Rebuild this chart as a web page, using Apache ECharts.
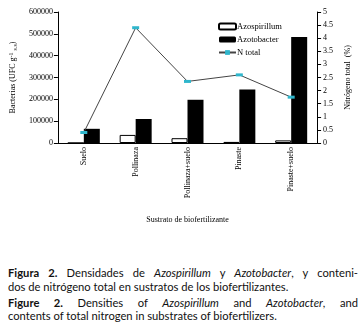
<!DOCTYPE html>
<html>
<head>
<meta charset="utf-8">
<script src="https://cdn.jsdelivr.net/npm/echarts@6/dist/echarts.min.js"></script>
<style>
  body { margin: 0; background: #fff; }
  #wrap { position: relative; width: 360px; height: 330px; overflow: hidden; }
  #main { position: absolute; left: 0; top: 0; width: 360px; height: 240px; }
  .cap { position: absolute; left: 8px; width: 350px; font-family: Lato, 'DejaVu Sans', sans-serif;
         font-size: 11.2px; line-height: 13px; color: #111; white-space: nowrap; }
  .j { text-align: justify; text-align-last: justify; }
  .cap b { font-weight: bold; }
</style>
</head>
<body>
<div id="wrap">
  <div id="main"></div>
  <div class="cap j" style="top:266px"><b>Figura 2.</b> Densidades de <i>Azospirillum</i> y <i>Azotobacter</i>, y conteni-</div>
  <div class="cap" style="top:280px">dos de nitrógeno total en sustratos de los biofertilizantes.</div>
  <div class="cap j" style="top:296px"><b>Figure 2.</b> Densities of <i>Azospirillum</i> and <i>Azotobacter</i>, and</div>
  <div class="cap" style="top:309px">contents of total nitrogen in substrates of biofertilizers.</div>
</div>
<script>
// data
let categories = ['Suelo', 'Pollinaza', 'Pollinaza+suelo', 'Pinaste', 'Pinaste+suelo'];
let azospirillum = [0, 37000, 22000, 5000, 12000];
let azotobacter = [65000, 110000, 198000, 245000, 485000];
let nTotal = [0.4, 4.4, 2.35, 2.6, 1.75];

let chartDom = document.getElementById('main');
let myChart = echarts.init(chartDom);
const serif = "'Liberation Serif', 'DejaVu Serif', serif";

let option = {
    animation: false,
    textStyle: { fontFamily: serif, color: '#000' },
    grid: { left: 55, right: 35, top: 12, bottom: 97 },
    legend: {
        orient: 'vertical',
        left: 213,
        top: 17,
        itemWidth: 17,
        itemHeight: 6,
        itemGap: 4,
        textStyle: { fontFamily: serif, fontSize: 8.5, color: '#000', padding: [0, 0, 0, -4] },
        data: ['Azospirillum', 'Azotobacter', 'N total']
    },
    xAxis: {
        type: 'category',
        data: categories,
        name: 'Sustrato de biofertilizante',
        nameLocation: 'middle',
        nameGap: 73,
        nameTextStyle: { fontFamily: serif, fontSize: 8, color: '#000' },
        axisLine: { lineStyle: { color: '#000', width: 1 } },
        axisTick: { length: 4, lineStyle: { color: '#000' } },
        axisLabel: { rotate: 90, fontSize: 8, color: '#000', fontFamily: serif, margin: 4 }
    },
    yAxis: [
        {
            type: 'value',
            min: 0,
            max: 600000,
            interval: 100000,
            name: '{a|Bacterias (UFC g}{sup|-1}{a| }{sub|s.s}{a|)}',
            nameLocation: 'middle',
            nameGap: 27,
            nameTextStyle: {
                rich: {
                    a: { fontFamily: serif, fontSize: 8, color: '#000' },
                    sup: { fontFamily: serif, fontSize: 6, color: '#000', verticalAlign: 'top', padding: [0, 0, 4, 0] },
                    sub: { fontFamily: serif, fontSize: 6, color: '#000', verticalAlign: 'bottom', padding: [4, 0, 0, 0] }
                }
            },
            axisLine: { show: true, lineStyle: { color: '#000' } },
            axisTick: { show: true, length: 4, lineStyle: { color: '#000' } },
            axisLabel: { fontSize: 8, color: '#000', fontFamily: serif, margin: 5, formatter: v => String(v) },
            splitLine: { show: false }
        },
        {
            type: 'value',
            min: 0,
            max: 5,
            interval: 0.5,
            position: 'right',
            name: 'Nitrógeno total  (%)',
            nameLocation: 'middle',
            nameRotate: 90,
            nameGap: 17,
            nameTextStyle: { fontFamily: serif, fontSize: 8, color: '#000' },
            axisLine: { show: true, lineStyle: { color: '#000' } },
            axisTick: { show: true, length: 4, lineStyle: { color: '#000' } },
            axisLabel: { fontSize: 8, color: '#000', fontFamily: serif, margin: 6 },
            splitLine: { show: false }
        }
    ],
    series: [
        {
            name: 'Azospirillum',
            type: 'bar',
            data: azospirillum,
            barWidth: 16,
            barGap: '0%',
            itemStyle: { color: '#fff', borderColor: '#000', borderWidth: 1 }
        },
        {
            name: 'Azotobacter',
            type: 'bar',
            data: azotobacter,
            barWidth: 16,
            barGap: '0%',
            itemStyle: { color: '#000' }
        },
        {
            name: 'N total',
            type: 'line',
            yAxisIndex: 1,
            data: nTotal,
            symbol: 'rect',
            symbolSize: [7, 3],
            itemStyle: { color: '#2fb6cc' },
            lineStyle: { color: '#444', width: 1 }
        }
    ]
};

option && myChart.setOption(option);
</script>
</body>
</html>
